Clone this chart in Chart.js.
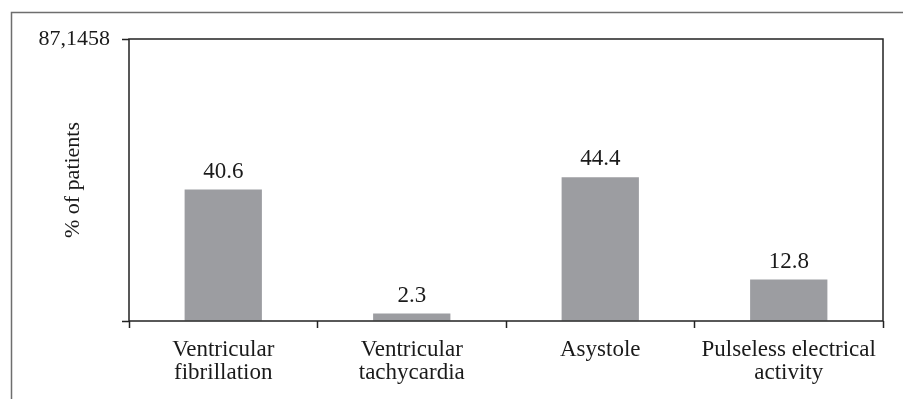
<!DOCTYPE html>
<html>
<head>
<meta charset="utf-8">
<script src="https://cdn.jsdelivr.net/npm/chart.js@4"></script>
<style>
  html, body { margin: 0; padding: 0; background: #fff; }
  #wrap { width: 903px; height: 399px; position: relative; }
</style>
</head>
<body>
<div id="wrap"><canvas id="rhythmChart"></canvas></div>
<script>
const categories = [
    ['Ventricular', 'fibrillation'],
    ['Ventricular', 'tachycardia'],
    ['Asystole'],
    ['Pulseless electrical', 'activity']
];
const percentPatients = [40.6, 2.3, 44.4, 12.8];
const valueLabels = ['40.6', '2.3', '44.4', '12.8'];
const yMax = 87.1458;
const yTickLabel = '87,1458';

const serif = '"Liberation Serif", "DejaVu Serif", serif';
const ink = '#1a1a1a';

// outer frame (top + left) and box round the plot area
const framePlugin = {
    id: 'frame',
    beforeDraw(chart) {
        const ctx = chart.ctx;
        ctx.save();
        ctx.strokeStyle = '#6e6e6e';
        ctx.lineWidth = 1.5;
        ctx.beginPath();
        ctx.moveTo(903, 12.5);
        ctx.lineTo(11.5, 12.5);
        ctx.lineTo(11.5, 399);
        ctx.stroke();
        ctx.restore();
    },
    afterDraw(chart) {
        const a = chart.chartArea;
        const ctx = chart.ctx;
        ctx.save();
        ctx.strokeStyle = '#222';
        ctx.lineWidth = 1.5;
        ctx.strokeRect(a.left, a.top, a.right - a.left, a.bottom - a.top);
        ctx.restore();
    }
};

// numbers above the bars
const barValuePlugin = {
    id: 'barValues',
    afterDatasetsDraw(chart) {
        const ctx = chart.ctx;
        const meta = chart.getDatasetMeta(0);
        ctx.save();
        ctx.font = '23px ' + serif;
        ctx.fillStyle = ink;
        ctx.textAlign = 'center';
        ctx.textBaseline = 'alphabetic';
        meta.data.forEach((bar, i) => {
            ctx.fillText(valueLabels[i], bar.x, bar.y - 12);
        });
        ctx.restore();
    }
};

new Chart(document.getElementById('rhythmChart'), {
    type: 'bar',
    data: {
        labels: categories,
        datasets: [{
            data: percentPatients,
            backgroundColor: '#9c9da1',
            borderWidth: 0,
            categoryPercentage: 1,
            barPercentage: 0.41
        }]
    },
    options: {
        responsive: true,
        maintainAspectRatio: false,
        animation: false,
        layout: { padding: { left: 0, right: 20, top: 39, bottom: 0 } },
        plugins: {
            legend: { display: false },
            tooltip: { enabled: false }
        },
        scales: {
            x: {
                grid: {
                    offset: true,
                    drawOnChartArea: false,
                    tickLength: 7,
                    tickWidth: 1.5,
                    color: '#222'
                },
                border: { display: false },
                ticks: {
                    color: ink,
                    font: { family: serif, size: 23, lineHeight: 1.02 },
                    padding: 10,
                    maxRotation: 0,
                    autoSkip: false
                },
                afterFit(scale) { scale.height = 78; }
            },
            y: {
                min: 0,
                max: yMax,
                afterBuildTicks(scale) {
                    scale.ticks = [{ value: 0 }, { value: yMax }];
                },
                grid: {
                    drawOnChartArea: false,
                    tickLength: 7,
                    tickWidth: 1.5,
                    color: '#222'
                },
                border: { display: false },
                ticks: {
                    color: ink,
                    font: { family: serif, size: 22 },
                    padding: 12,
                    callback: (v) => (v === yMax ? yTickLabel : '')
                },
                title: {
                    display: true,
                    text: '% of patients',
                    color: ink,
                    font: { family: serif, size: 22 },
                    padding: { top: 60, bottom: 0 }
                },
                afterFit(scale) { scale.width = 129; }
            }
        }
    },
    plugins: [framePlugin, barValuePlugin]
});
</script>
</body>
</html>
